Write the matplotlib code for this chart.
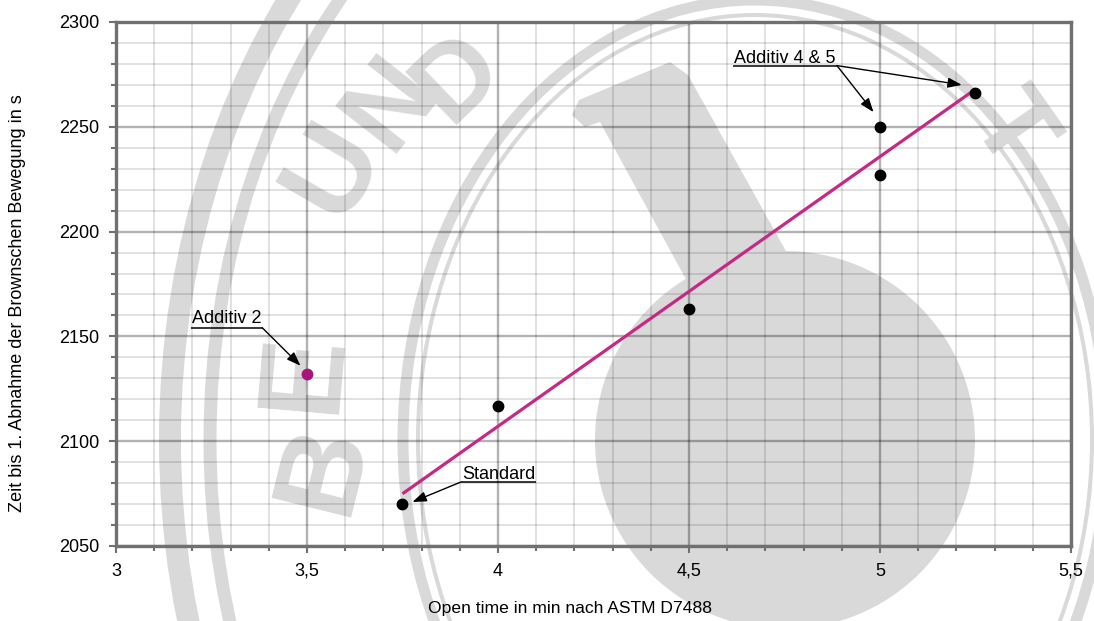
import numpy as np
import matplotlib
matplotlib.use("Agg")
import matplotlib.pyplot as plt
from matplotlib.patches import Ellipse, Polygon
from matplotlib.ticker import MultipleLocator, FixedLocator, FixedFormatter

# --- data -------------------------------------------------------------
# open time (min, ASTM D7488) vs. time until first decrease of Brownian motion (s)
series_x = [3.75, 4.0, 4.5, 5.0, 5.0, 5.25]
series_y = [2070, 2117, 2163, 2250, 2227, 2266]
additiv2_x = [3.5]
additiv2_y = [2132]

x_ticks = [3.0, 3.5, 4.0, 4.5, 5.0, 5.5]
x_tick_labels = ["3", "3,5", "4", "4,5", "5", "5,5"]
y_ticks = [2050, 2100, 2150, 2200, 2250, 2300]
y_tick_labels = ["2050", "2100", "2150", "2200", "2250", "2300"]

W, H = 1094, 621
plt.rcParams['font.family'] = ['Liberation Sans', 'DejaVu Sans']

fig = plt.figure(figsize=(W / 100, H / 100), dpi=100)
fig.patch.set_facecolor('white')

# --- background stamp ---------------------------------------------------
WM = '#d9d9d9'
PX = 72 / 100  # points per pixel
bg = fig.add_axes([0, 0, 1, 1], zorder=0)
bg.set_xlim(0, W)
bg.set_ylim(H, 0)
bg.axis('off')

bg.add_patch(Ellipse((785, 440), 380, 378, color=WM, lw=0))
bg.add_patch(Polygon([(579, 100), (670, 62), (688, 75), (792, 262),
                      (700, 305), (600, 122), (585, 127), (572, 115)],
                     closed=True, color=WM, lw=0))
for a, b, w in [(352, 440, 11), (337, 425, 4), (585, 730, 22), (545, 680, 13)]:
    bg.add_patch(Ellipse((755, 440), 2 * a, 2 * b, fill=False, ec=WM, lw=w * PX))
for ch, x, y, rot, fs in [("U", 335, 170, 60, 86), ("N", 392, 104, 52, 82),
                          ("D", 458, 78, 44, 78), ("E", 305, 372, 85, 86),
                          ("B", 325, 468, 76, 86), ("T", 1010, 132, -55, 78)]:
    bg.text(x, y, ch, rotation=rot, ha='center', va='center', rotation_mode='anchor',
            fontsize=fs, fontweight='bold', color=WM)

# --- main axes ------------------------------------------------------------
L, R, T, B = 116, 1071, 22, 546
ax = fig.add_axes([L / W, 1 - B / H, (R - L) / W, (B - T) / H], zorder=1)
ax.set_facecolor('none')
ax.set_xlim(3.0, 5.5)
ax.set_ylim(2050, 2300)

ax.xaxis.set_major_locator(FixedLocator(x_ticks))
ax.xaxis.set_major_formatter(FixedFormatter(x_tick_labels))
ax.yaxis.set_major_locator(FixedLocator(y_ticks))
ax.yaxis.set_major_formatter(FixedFormatter(y_tick_labels))
ax.xaxis.set_minor_locator(MultipleLocator(0.1))
ax.yaxis.set_minor_locator(MultipleLocator(10))

ax.set_axisbelow(True)
ax.grid(which='major', color='black', alpha=0.30, lw=1.7)
ax.grid(which='minor', color='black', alpha=0.12, lw=1.4)

for s in ax.spines.values():
    s.set_color('#707070')
    s.set_linewidth(2.4)
ax.tick_params(which='both', direction='out', color='#707070', width=1.5,
               top=False, right=False)
ax.tick_params(which='major', length=5, labelsize=13, pad=7)
ax.tick_params(which='minor', length=3.5)

# trend line through the series (linear least squares)
coef = np.polyfit(series_x, series_y, 1)
tx = np.array([min(series_x), max(series_x)])
ax.plot(tx, np.polyval(coef, tx), color='#c42a84', lw=2.3, zorder=3,
        solid_capstyle='butt')

ax.plot(series_x, series_y, 'o', color='black', ms=7.5, zorder=4)
ax.plot(additiv2_x, additiv2_y, 'o', color='#a8157a', ms=7.5, zorder=4)

fig.text(570 / W, 1 - 609 / H, "Open time in min nach ASTM D7488",
         ha='center', va='center', fontsize=12.6)
fig.text(18 / W, 1 - 303 / H, "Zeit bis 1. Abnahme der Brownschen Bewegung in s",
         ha='center', va='center', rotation=90, fontsize=13)

# --- annotations with underlined labels -----------------------------------
labels = [
    ("Additiv 4 & 5", 4.619, 2280.6, 2279.2),
    ("Additiv 2", 3.199, 2156.4, 2154.0),
    ("Standard", 3.905, 2082.0, 2080.5),
]
texts = []
for txt, x, y, uy in labels:
    texts.append((ax.text(x, y, txt, fontsize=13, ha='left', va='baseline', zorder=5), uy))

fig.canvas.draw()
renderer = fig.canvas.get_renderer()
inv = ax.transData.inverted()
ends = []
for t, uy in texts:
    bb = t.get_window_extent(renderer)
    x0 = inv.transform((bb.x0 - 1, 0))[0]
    x1 = inv.transform((bb.x1 + 1, 0))[0]
    ax.plot([x0, x1], [uy, uy], color='black', lw=1.1, zorder=5,
            solid_capstyle='butt')
    ends.append((x0, x1, uy))

arrow = dict(arrowstyle='-|>,head_length=0.6,head_width=0.22', color='black',
             lw=1.0, shrinkA=0, shrinkB=0, mutation_scale=14)
x0, x1, uy = ends[0]
ax.annotate("", xy=(5.214, 2270), xytext=(x1, uy), arrowprops=arrow, zorder=5)
ax.annotate("", xy=(4.983, 2257), xytext=(x1, uy), arrowprops=arrow, zorder=5)
x0, x1, uy = ends[1]
ax.annotate("", xy=(3.483, 2136), xytext=(x1, uy), arrowprops=arrow, zorder=5)
x0, x1, uy = ends[2]
ax.annotate("", xy=(3.776, 2071), xytext=(x0, uy), arrowprops=arrow, zorder=5)

fig.savefig("out.png", dpi=100, facecolor='white')
